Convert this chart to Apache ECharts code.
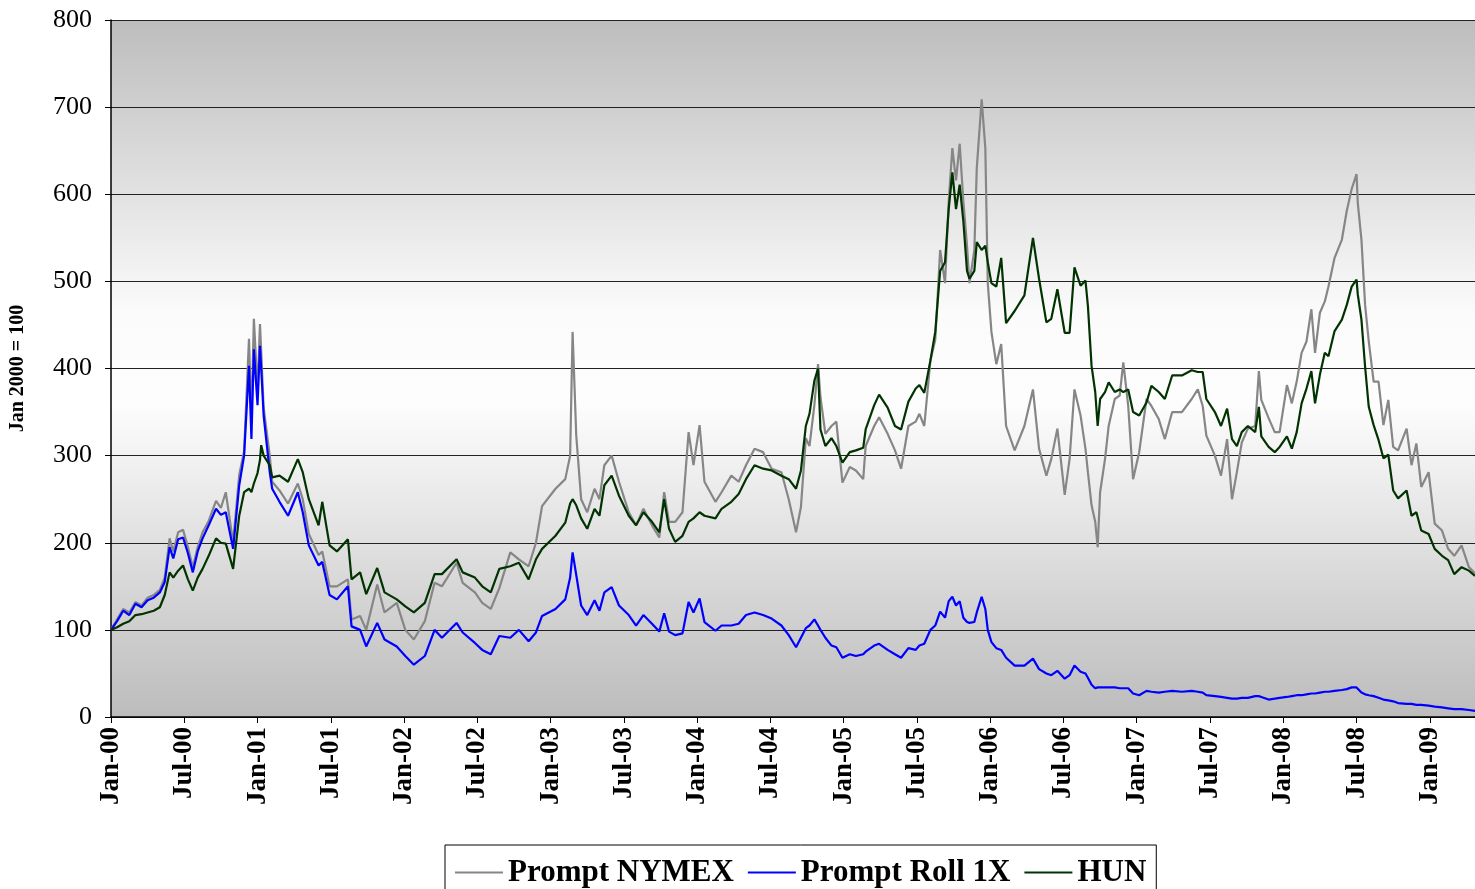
<!DOCTYPE html>
<html>
<head>
<meta charset="utf-8">
<script src="https://cdn.jsdelivr.net/npm/echarts@6/dist/echarts.min.js"></script>
<style>
  html, body { margin: 0; padding: 0; background: #fff; }
  #chart { width: 1475px; height: 889px; }
</style>
</head>
<body>
<div id="chart"></div>
<script>
// months since Jan 2000 for each sample
var months = [
    0, 0.5, 1, 1.5, 2, 2.5, 3, 3.5, 4, 4.4, 4.8, 5.1, 5.5, 5.9, 6.3, 6.7, 7.1, 7.5, 8, 8.6,
    9, 9.4, 10, 10.5, 10.9, 11.3, 11.5, 11.7, 12, 12.2, 12.3, 12.5, 13, 13.2, 13.8, 14.5, 15.3, 15.7, 16.2, 17,
    17.3, 17.9, 18.5, 19.4, 19.7, 20.4, 20.9, 21.8, 22.4, 23.4, 24.1, 24.8, 25.7, 26.5, 27.1, 28.3, 28.8, 29.8, 30.4, 31.1,
    31.8, 32.7, 33.4, 34.2, 34.8, 35.3, 36.4, 37.2, 37.6, 37.8, 38.1, 38.5, 39, 39.6, 40, 40.4, 41, 41.6, 42.4, 43,
    43.6, 44.3, 44.9, 45.3, 45.7, 46.2, 46.8, 47.3, 47.7, 48.2, 48.6, 49.5, 50, 50.8, 51.4, 52, 52.7, 53.4, 54.1, 54.9,
    55.5, 56.1, 56.5, 56.9, 57.2, 57.6, 57.9, 58.1, 58.5, 59, 59.4, 59.9, 60.5, 61, 61.6, 61.8, 62.5, 62.9, 63.6, 64.2,
    64.7, 65.3, 65.9, 66.2, 66.6, 67.1, 67.5, 67.9, 68.3, 68.6, 68.9, 69.2, 69.5, 69.8, 70.1, 70.3, 70.7, 70.9, 71.3, 71.6,
    71.8, 72.1, 72.5, 72.9, 73.3, 74, 74.8, 75.5, 76, 76.6, 77, 77.5, 78.1, 78.5, 78.9, 79.4, 79.8, 80, 80.3, 80.6,
    80.8, 81, 81.4, 81.7, 82.2, 82.6, 82.9, 83.3, 83.7, 84.2, 84.8, 85.2, 85.8, 86.3, 86.9, 87.7, 88.5, 89, 89.4, 89.7,
    90.4, 90.9, 91.4, 91.8, 92.2, 92.6, 93.1, 93.7, 94, 94.2, 94.8, 95.3, 95.7, 96.3, 96.7, 97.1, 97.5, 97.9, 98.3, 98.6,
    99, 99.4, 99.7, 100.2, 100.8, 101.2, 101.6, 102, 102.1, 102.4, 102.7, 103, 103.4, 103.8, 104.2, 104.6, 105, 105.4, 106.1, 106.5,
    106.9, 107.3, 107.9, 108.4, 109, 109.5, 110, 110.6, 111.2, 111.7
];
var promptNymex = [
    100, 112, 124, 120, 132, 128, 137, 140, 146, 160, 205, 190, 212, 215, 195, 172, 195, 212, 225, 248,
    240, 258, 200, 278, 305, 434, 340, 457, 375, 451, 420, 355, 300, 270, 260, 245, 268, 250, 210, 186,
    190, 150, 150, 158, 112, 116, 100, 152, 120, 131, 100, 89, 110, 154, 150, 177, 154, 143, 131, 124,
    148, 189, 181, 173, 200, 242, 262, 273, 300, 442, 323, 250, 235, 262, 250, 289, 300, 270, 235, 220,
    239, 220, 206, 258, 224, 224, 235, 327, 289, 335, 270, 247, 258, 277, 270, 289, 308, 304, 285, 281,
    250, 212, 241, 320, 311, 358, 405, 367, 325, 334, 339, 269, 287, 283, 273, 311, 334, 344, 325, 306,
    285, 334, 339, 348, 334, 409, 433, 536, 498, 592, 653, 616, 658, 592, 541, 498, 536, 630, 709, 653,
    498, 442, 405, 428, 334, 306, 334, 376, 308, 277, 296, 331, 255, 296, 376, 346, 308, 281, 243, 224,
    195, 258, 296, 334, 365, 369, 407, 357, 273, 304, 365, 357, 342, 319, 350, 350, 365, 376, 357, 323,
    300, 277, 319, 250, 281, 315, 331, 334, 397, 364, 343, 327, 327, 381, 360, 385, 418, 431, 468, 418,
    464, 477, 494, 527, 548, 581, 606, 623, 590, 548, 473, 431, 385, 385, 335, 364, 310, 306, 331, 289,
    314, 264, 281, 222, 214, 193, 185, 197, 172, 165
];
var promptRoll = [
    100, 110, 122, 117, 130, 126, 134, 137, 143, 155, 195, 182, 204, 206, 188, 166, 190, 205, 220, 239,
    232, 235, 193, 266, 300, 403, 319, 422, 358, 426, 400, 346, 281, 262, 247, 231, 258, 235, 197, 174,
    178, 140, 135, 150, 104, 100, 81, 108, 89, 81, 70, 60, 70, 100, 91, 108, 97, 85, 77, 72,
    93, 91, 100, 87, 97, 116, 124, 135, 160, 189, 163, 128, 117, 134, 122, 143, 149, 128, 117, 105,
    117, 107, 98, 119, 98, 94, 96, 132, 120, 136, 109, 99, 105, 105, 107, 117, 120, 117, 113, 105,
    94, 80, 91, 102, 105, 112, 105, 100, 91, 82, 80, 68, 72, 70, 72, 75, 82, 84, 77, 72,
    68, 79, 77, 82, 84, 100, 105, 121, 114, 133, 138, 128, 133, 114, 109, 108, 109, 120, 138, 124,
    100, 86, 79, 77, 68, 59, 59, 67, 55, 50, 48, 53, 44, 48, 59, 52, 50, 45, 37, 33,
    34, 34, 34, 34, 34, 33, 33, 33, 27, 25, 30, 29, 28, 29, 30, 29, 30, 29, 28, 25,
    24, 23, 22, 21, 21, 22, 22, 24, 24, 23, 20, 21, 22, 23, 24, 25, 25, 26, 27, 27,
    28, 29, 29, 30, 31, 32, 34, 34, 33, 28, 26, 25, 24, 22, 20, 19, 18, 16, 15, 15,
    14, 14, 13, 12, 11, 10, 9, 9, 8, 7
];
var hun = [
    100, 103, 107, 110, 117, 118, 120, 122, 126, 140, 166, 160, 168, 174, 158, 145, 160, 170, 185, 205,
    200, 199, 170, 231, 258, 262, 258, 268, 280, 295, 312, 300, 289, 275, 277, 270, 296, 281, 250, 220,
    247, 197, 190, 204, 158, 166, 141, 171, 143, 135, 127, 120, 131, 164, 164, 181, 166, 160, 150, 143,
    170, 173, 177, 158, 181, 193, 208, 223, 245, 250, 243, 228, 216, 239, 231, 266, 277, 254, 231, 220,
    235, 224, 212, 250, 216, 201, 208, 224, 228, 235, 231, 228, 239, 247, 256, 273, 289, 285, 283, 277,
    273, 262, 283, 334, 348, 386, 400, 330, 311, 320, 311, 292, 304, 306, 309, 330, 358, 370, 355, 334,
    330, 362, 377, 381, 372, 409, 442, 512, 522, 583, 625, 583, 611, 569, 512, 503, 512, 545, 536, 541,
    522, 498, 494, 527, 452, 466, 484, 550, 503, 453, 457, 491, 441, 441, 516, 495, 501, 472, 403, 373,
    334, 365, 373, 384, 373, 376, 373, 376, 350, 346, 361, 380, 373, 365, 392, 392, 398, 396, 396, 365,
    350, 334, 354, 319, 311, 327, 334, 327, 356, 322, 310, 304, 310, 322, 308, 327, 360, 377, 397, 360,
    393, 418, 414, 443, 456, 473, 494, 502, 485, 456, 402, 356, 335, 318, 297, 301, 260, 251, 260, 231,
    235, 214, 210, 193, 185, 180, 164, 172, 168, 162
];
var seriesNames = ['Prompt NYMEX', 'Prompt Roll 1X', 'HUN'];
var seriesColors = ['#868686', '#0000ff', '#003300'];
var monthNames = ['Jan', 'Jul'];

function pairs(vals) {
    return months.map(function (m, i) { return [m, vals[i]]; });
}

var serif = 'Liberation Serif, Times New Roman, serif';
var chart = echarts.init(document.getElementById('chart'));

chart.setOption({
    animation: false,
    backgroundColor: '#fff',
    grid: {
        left: 110, right: 0, top: 20, bottom: 172,
        show: true, borderWidth: 0,
        backgroundColor: new echarts.graphic.LinearGradient(0, 0, 0, 1, [
            { offset: 0, color: '#bdbdbd' },
            { offset: 0.42, color: '#fbfbfb' },
            { offset: 0.55, color: '#fdfdfd' },
            { offset: 1, color: '#bcbcbc' }
        ])
    },
    legend: {
        left: 445, top: 845,
        padding: [12, 10, 30, 10],
        borderColor: '#000', borderWidth: 1,
        backgroundColor: '#fff',
        icon: 'rect',
        itemWidth: 48, itemHeight: 2, itemGap: 14,
        textStyle: { fontFamily: serif, fontWeight: 'bold', fontSize: 31, color: '#000' },
        data: seriesNames
    },
    xAxis: {
        type: 'value', min: 0, max: 111.7, interval: 6,
        axisLine: { show: true, onZero: false, lineStyle: { color: '#000', width: 1.5 } },
        axisTick: { show: true, length: 6, lineStyle: { color: '#000' } },
        splitLine: { show: false },
        axisLabel: {
            rotate: 90, margin: 10, showMaxLabel: false,
            fontFamily: serif, fontWeight: 'bold', fontSize: 27, color: '#000',
            formatter: function (v) {
                var r = Math.round(v);
                if (Math.abs(v - r) > 1e-6 || r % 6 !== 0) return '';
                var yr = Math.floor(r / 12);
                return monthNames[(r % 12) / 6] + '-' + (yr < 10 ? '0' + yr : '' + yr);
            }
        }
    },
    yAxis: {
        type: 'value', min: 0, max: 800, interval: 100,
        name: 'Jan 2000 = 100', nameLocation: 'middle', nameGap: 83, nameRotate: 90,
        nameTextStyle: { fontFamily: serif, fontWeight: 'bold', fontSize: 20, color: '#000' },
        axisLine: { show: true, lineStyle: { color: '#000', width: 1.5 } },
        axisTick: { show: true, length: 6, lineStyle: { color: '#000' } },
        splitLine: { show: true, lineStyle: { color: '#222', width: 1 } },
        axisLabel: { margin: 19, fontFamily: serif, fontSize: 26, color: '#000' }
    },
    series: [promptNymex, promptRoll, hun].map(function (vals, i) {
        return {
            name: seriesNames[i],
            type: 'line',
            symbol: 'none',
            data: pairs(vals),
            color: seriesColors[i],
            lineStyle: { color: seriesColors[i], width: 2.2 }
        };
    })
});
</script>
</body>
</html>
